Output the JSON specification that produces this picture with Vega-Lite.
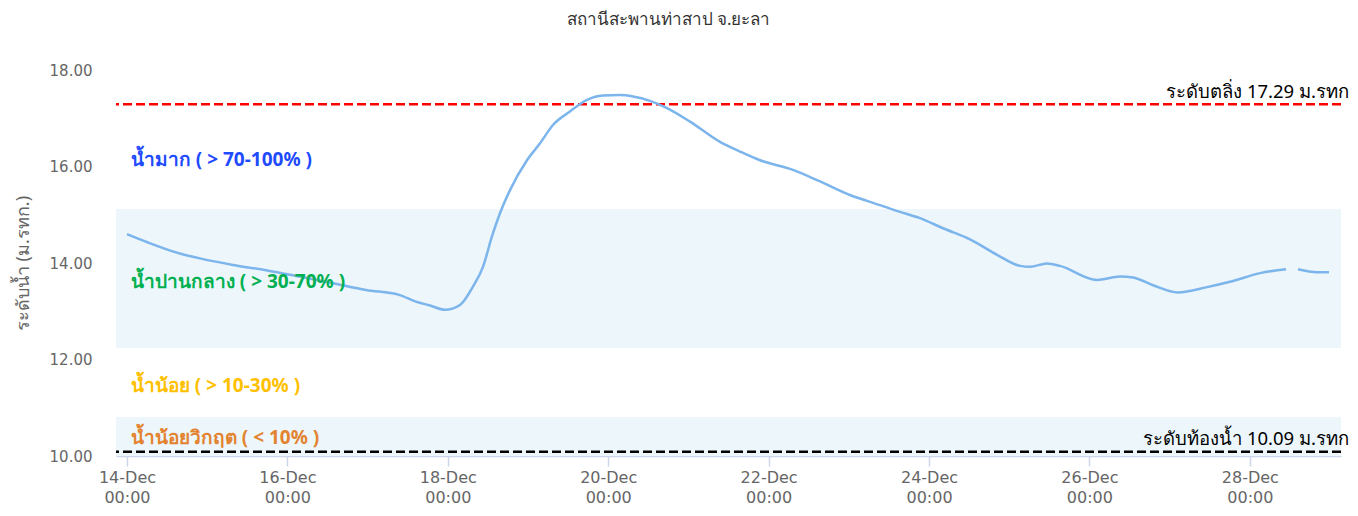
{
  "$schema": "https://vega.github.io/schema/vega-lite/v6.json",
  "width": 1225,
  "height": 386,
  "autosize": {"type": "none"},
  "padding": {"left": 116, "top": 70, "right": 17, "bottom": 60},
  "background": "#ffffff",
  "title": {
    "text": "สถานีสะพานท่าสาป จ.ยะลา",
    "anchor": "middle",
    "frame": "group",
    "dx": -60,
    "offset": 34,
    "fontSize": 17,
    "fontWeight": "normal",
    "color": "#333333",
    "font": "Noto Sans"
  },
  "config": {
    "view": {"stroke": null},
    "font": "Noto Sans",
    "axis": {"grid": false}
  },
  "datasets": {
    "level": [
      {"t": "2023-12-14T00:00", "v": 14.60, "seg": 1},
      {"t": "2023-12-14T06:30", "v": 14.42, "seg": 1},
      {"t": "2023-12-14T14:40", "v": 14.22, "seg": 1},
      {"t": "2023-12-14T22:45", "v": 14.08, "seg": 1},
      {"t": "2023-12-15T07:43", "v": 13.96, "seg": 1},
      {"t": "2023-12-15T17:36", "v": 13.85, "seg": 1},
      {"t": "2023-12-16T03:29", "v": 13.72, "seg": 1},
      {"t": "2023-12-16T13:39", "v": 13.58, "seg": 1},
      {"t": "2023-12-16T23:31", "v": 13.44, "seg": 1},
      {"t": "2023-12-17T09:24", "v": 13.34, "seg": 1},
      {"t": "2023-12-17T14:28", "v": 13.20, "seg": 1},
      {"t": "2023-12-17T18:40", "v": 13.12, "seg": 1},
      {"t": "2023-12-17T23:10", "v": 13.03, "seg": 1},
      {"t": "2023-12-18T03:39", "v": 13.13, "seg": 1},
      {"t": "2023-12-18T07:32", "v": 13.51, "seg": 1},
      {"t": "2023-12-18T10:32", "v": 13.92, "seg": 1},
      {"t": "2023-12-18T13:13", "v": 14.55, "seg": 1},
      {"t": "2023-12-18T15:37", "v": 15.03, "seg": 1},
      {"t": "2023-12-18T18:37", "v": 15.51, "seg": 1},
      {"t": "2023-12-18T23:42", "v": 16.13, "seg": 1},
      {"t": "2023-12-19T03:36", "v": 16.48, "seg": 1},
      {"t": "2023-12-19T07:29", "v": 16.86, "seg": 1},
      {"t": "2023-12-19T12:34", "v": 17.14, "seg": 1},
      {"t": "2023-12-19T17:40", "v": 17.38, "seg": 1},
      {"t": "2023-12-19T22:26", "v": 17.47, "seg": 1},
      {"t": "2023-12-20T03:32", "v": 17.48, "seg": 1},
      {"t": "2023-12-20T07:25", "v": 17.45, "seg": 1},
      {"t": "2023-12-20T12:30", "v": 17.36, "seg": 1},
      {"t": "2023-12-20T17:36", "v": 17.21, "seg": 1},
      {"t": "2023-12-21T00:29", "v": 16.93, "seg": 1},
      {"t": "2023-12-21T09:27", "v": 16.51, "seg": 1},
      {"t": "2023-12-21T15:26", "v": 16.31, "seg": 1},
      {"t": "2023-12-21T21:26", "v": 16.13, "seg": 1},
      {"t": "2023-12-22T07:18", "v": 15.93, "seg": 1},
      {"t": "2023-12-22T15:23", "v": 15.69, "seg": 1},
      {"t": "2023-12-23T00:21", "v": 15.41, "seg": 1},
      {"t": "2023-12-23T09:20", "v": 15.20, "seg": 1},
      {"t": "2023-12-23T15:19", "v": 15.06, "seg": 1},
      {"t": "2023-12-23T21:18", "v": 14.93, "seg": 1},
      {"t": "2023-12-24T04:12", "v": 14.72, "seg": 1},
      {"t": "2023-12-24T12:16", "v": 14.49, "seg": 1},
      {"t": "2023-12-24T20:21", "v": 14.17, "seg": 1},
      {"t": "2023-12-25T03:14", "v": 13.94, "seg": 1},
      {"t": "2023-12-25T06:13", "v": 13.92, "seg": 1},
      {"t": "2023-12-25T11:18", "v": 13.99, "seg": 1},
      {"t": "2023-12-25T15:11", "v": 13.94, "seg": 1},
      {"t": "2023-12-26T02:16", "v": 13.65, "seg": 1},
      {"t": "2023-12-26T09:10", "v": 13.72, "seg": 1},
      {"t": "2023-12-26T13:03", "v": 13.70, "seg": 1},
      {"t": "2023-12-26T19:02", "v": 13.54, "seg": 1},
      {"t": "2023-12-27T02:31", "v": 13.39, "seg": 1},
      {"t": "2023-12-27T11:11", "v": 13.50, "seg": 1},
      {"t": "2023-12-27T18:04", "v": 13.61, "seg": 1},
      {"t": "2023-12-28T03:03", "v": 13.79, "seg": 1},
      {"t": "2023-12-28T10:50", "v": 13.87, "seg": 1},
      {"t": "2023-12-28T14:25", "v": 13.87, "seg": 2},
      {"t": "2023-12-28T20:07", "v": 13.81, "seg": 2},
      {"t": "2023-12-28T23:42", "v": 13.81, "seg": 2}
    ],
    "bands": [
      {"lo": 12.24, "hi": 15.12},
      {"lo": 10.0, "hi": 10.81}
    ],
    "refs": [
      {"name": "bank", "level": 17.29},
      {"name": "bed", "level": 10.09}
    ],
    "zones": [
      {"zone": "high", "label": "น้ำมาก ( > 70-100% )", "t": "2023-12-14T01:10", "v": 16.13},
      {"zone": "mid", "label": "น้ำปานกลาง ( > 30-70% )", "t": "2023-12-14T01:10", "v": 13.61},
      {"zone": "low", "label": "น้ำน้อย ( > 10-30% )", "t": "2023-12-14T01:10", "v": 11.45},
      {"zone": "crit", "label": "น้ำน้อยวิกฤต ( < 10% )", "t": "2023-12-14T01:10", "v": 10.37}
    ],
    "reflabels": [
      {"label": "ระดับตลิ่ง 17.29 ม.รทก", "t": "2023-12-29T05:40", "v": 17.54},
      {"label": "ระดับท้องน้ำ 10.09 ม.รทก", "t": "2023-12-29T05:40", "v": 10.35}
    ]
  },
  "layer": [
    {
      "data": {"name": "bands"},
      "mark": {"type": "rect", "color": "#ecf6fb"},
      "encoding": {
        "y": {
          "field": "lo", "type": "quantitative",
          "scale": {"domain": [10, 18], "nice": false, "zero": false},
          "title": "ระดับน้ำ (ม.รทก.)",
          "axis": {
            "title": "ระดับน้ำ (ม.รทก.)",
            "titleFontSize": 18,
            "titleFontWeight": "normal",
            "titleColor": "#666666",
            "titleFont": "Noto Sans",
            "titlePadding": 17,
            "values": [10, 12, 14, 16, 18],
            "format": ".2f",
            "labelFont": "DejaVu Sans",
            "labelFontSize": 15,
            "labelColor": "#666666",
            "labelPadding": 24,
            "domain": false,
            "ticks": false,
            "grid": false
          }
        },
        "y2": {"field": "hi"}
      }
    },
    {
      "data": {"name": "refs"},
      "mark": {"type": "rule", "strokeWidth": 2.5, "strokeDash": [9, 4]},
      "encoding": {
        "y": {"field": "level", "type": "quantitative", "title": "ระดับน้ำ (ม.รทก.)"},
        "color": {"field": "name", "type": "nominal", "scale": {"domain": ["bank", "bed"], "range": ["#ff0000", "#000000"]}, "legend": null}
      }
    },
    {
      "data": {"name": "level"},
      "mark": {"type": "line", "color": "#7cb5ec", "strokeWidth": 2.5, "interpolate": "monotone"},
      "encoding": {
        "x": {
          "field": "t", "type": "temporal",
          "title": null,
          "scale": {"domain": ["2023-12-13T20:43", "2023-12-29T03:17"], "nice": false},
          "axis": {
            "title": null,
            "values": [
              {"year": 2023, "month": 12, "date": 14},
              {"year": 2023, "month": 12, "date": 16},
              {"year": 2023, "month": 12, "date": 18},
              {"year": 2023, "month": 12, "date": 20},
              {"year": 2023, "month": 12, "date": 22},
              {"year": 2023, "month": 12, "date": 24},
              {"year": 2023, "month": 12, "date": 26},
              {"year": 2023, "month": 12, "date": 28}
            ],
            "labelExpr": "[timeFormat(datum.value, '%d-%b'), timeFormat(datum.value, '%H:%M')]",
            "labelFont": "DejaVu Sans",
            "labelFontSize": 16,
            "labelColor": "#666666",
            "labelLineHeight": 20,
            "labelPadding": 3,
            "domainColor": "#ccd6eb",
            "domainWidth": 1.5,
            "tickColor": "#ccd6eb",
            "tickSize": 10,
            "tickWidth": 1.5,
            "grid": false
          }
        },
        "y": {"field": "v", "type": "quantitative", "title": "ระดับน้ำ (ม.รทก.)"},
        "detail": {"field": "seg", "type": "nominal"}
      }
    },
    {
      "data": {"name": "zones"},
      "mark": {"type": "text", "align": "left", "baseline": "middle", "fontSize": 19, "fontWeight": "bold"},
      "encoding": {
        "x": {"field": "t", "type": "temporal", "title": null},
        "y": {"field": "v", "type": "quantitative", "title": "ระดับน้ำ (ม.รทก.)"},
        "text": {"field": "label"},
        "color": {"field": "zone", "type": "nominal", "scale": {"domain": ["high", "mid", "low", "crit"], "range": ["#1f4bff", "#00b050", "#ffc000", "#e3832f"]}, "legend": null}
      }
    },
    {
      "data": {"name": "reflabels"},
      "mark": {"type": "text", "align": "right", "baseline": "middle", "fontSize": 18.5, "color": "#000000"},
      "encoding": {
        "x": {"field": "t", "type": "temporal", "title": null},
        "y": {"field": "v", "type": "quantitative", "title": "ระดับน้ำ (ม.รทก.)"},
        "text": {"field": "label"}
      }
    }
  ],
  "resolve": {"scale": {"color": "independent"}}
}
